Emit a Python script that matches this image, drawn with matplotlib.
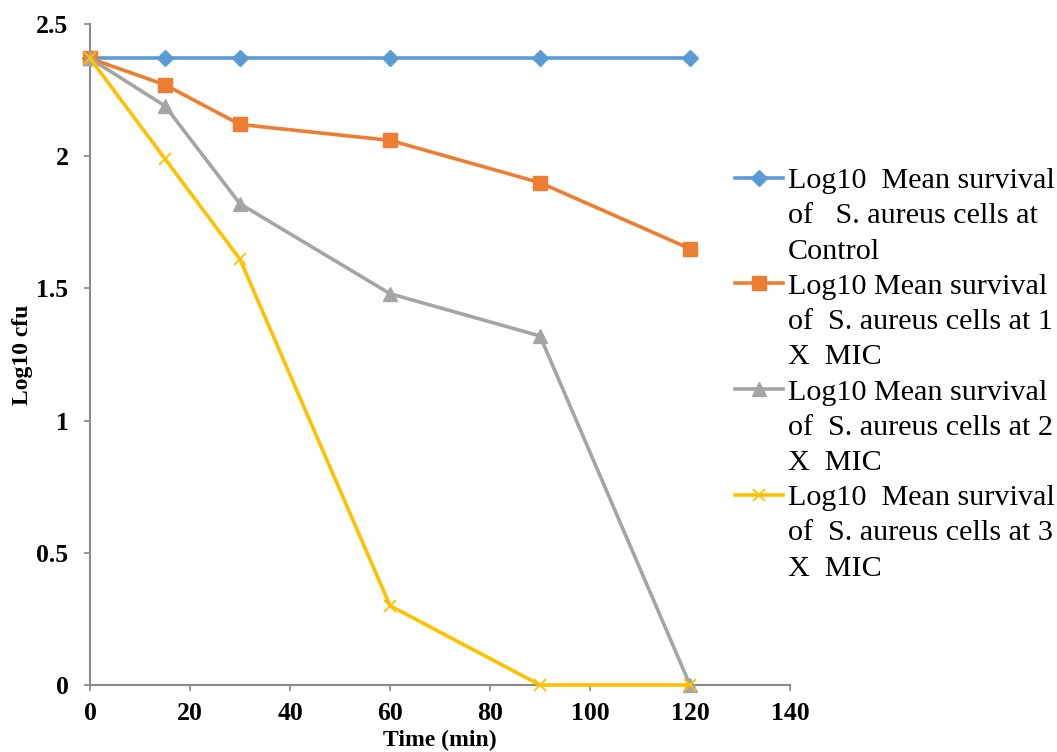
import matplotlib.pyplot as plt
from matplotlib.lines import Line2D

times = [0, 15, 30, 60, 90, 120]
control = [2.37, 2.37, 2.37, 2.37, 2.37, 2.37]
mic1 = [2.37, 2.27, 2.12, 2.06, 1.90, 1.65]
mic2 = [2.37, 2.19, 1.82, 1.48, 1.32, 0.0]
mic3 = [2.37, 1.99, 1.61, 0.30, 0.0, 0.0]

labels = [
    ["Log10  Mean survival", "of   S. aureus cells at", "Control"],
    ["Log10 Mean survival", "of  S. aureus cells at 1", "X  MIC"],
    ["Log10 Mean survival", "of  S. aureus cells at 2", "X  MIC"],
    ["Log10  Mean survival", "of  S. aureus cells at 3", "X  MIC"],
]

plt.rcParams['font.family'] = ['Liberation Serif', 'DejaVu Serif']

fig = plt.figure(figsize=(10.57, 7.52), dpi=100)
ax = fig.add_axes([90 / 1057, 67 / 752, 700 / 1057, 661 / 752])

lines = []
lines += ax.plot(times, control, color='#5B9BD5', lw=2.6, marker='D', ms=8, clip_on=False, zorder=3)
lines += ax.plot(times, mic1, color='#ED7D31', lw=2.6, marker='s', ms=10, clip_on=False, zorder=3)
lines += ax.plot(times, mic2, color='#A5A5A5', lw=2.6, marker='^', ms=10, clip_on=False, zorder=3)
lines += ax.plot(times, mic3, color='#FFC000', lw=2.6, marker='x', ms=9, mew=1.3, clip_on=False, zorder=3)

ax.set_xlim(0, 140)
ax.set_ylim(0, 2.5)
ax.set_xticks(range(0, 141, 20))
ax.set_yticks([0, 0.5, 1, 1.5, 2, 2.5])
ax.set_yticklabels(['0', '0.5', '1', '1.5', '2', '2.5'])

for s in ['top', 'right']:
    ax.spines[s].set_visible(False)
for s in ['left', 'bottom']:
    ax.spines[s].set_color('#898989')
    ax.spines[s].set_linewidth(1.5)
ax.tick_params(axis='both', direction='out', color='#898989', width=1.2, length=4.5, labelsize=18.5)
ax.tick_params(axis='y', pad=11)
ax.tick_params(axis='x', pad=8)
for t in ax.get_xticklabels() + ax.get_yticklabels():
    t.set_fontweight('bold')

ax.set_xlabel('Time (min)', fontsize=17, fontweight='bold', labelpad=3)
ax.set_ylabel('Log10 cfu', fontsize=17, fontweight='bold', labelpad=2)

# one legend row per text line, handle only on the first line of each entry
handles, texts = [], []
for ln, lab in zip(lines, labels):
    handles.append(ln)
    texts.append(lab[0])
    for extra in lab[1:]:
        handles.append(Line2D([], [], color='none'))
        texts.append(extra)

leg = fig.legend(handles, texts, loc='upper left', bbox_to_anchor=(735 / 1057, 1 - 167 / 752), frameon=False,
                 fontsize=21.7, handlelength=1.6, handletextpad=0.15, borderpad=0, borderaxespad=0,
                 labelspacing=0.27)

fig.savefig('out.png', dpi=100)
